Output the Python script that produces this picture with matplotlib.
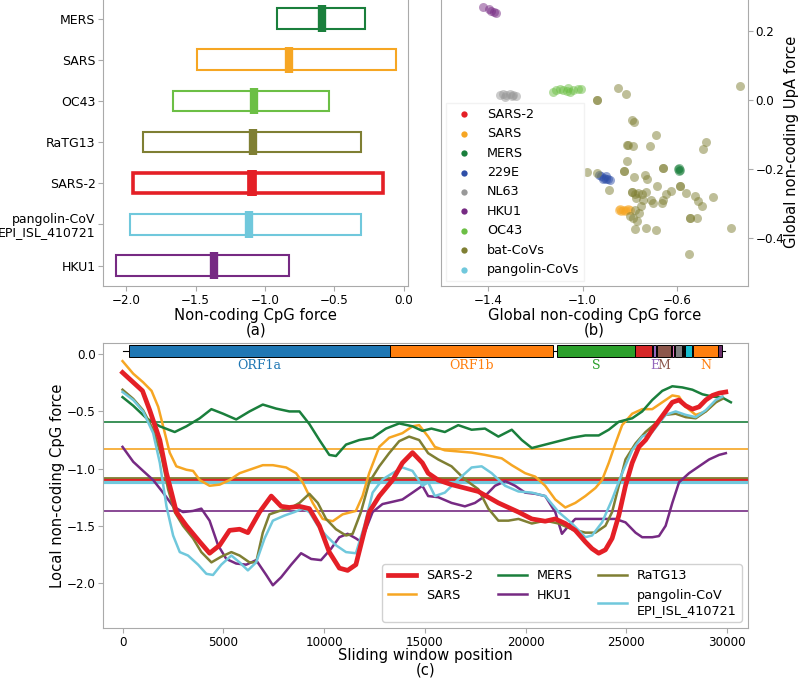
import matplotlib
matplotlib.use('Agg')
import matplotlib.pyplot as plt

plt.rcParams['font.family'] = ['DejaVu Sans']
plt.rcParams['font.size'] = 9

# ---------- colours ----------
c_sars2 = '#e41f26'
c_sars = '#f6a623'
c_mers = '#1a7f3c'
c_hku1 = '#762a83'
c_ratg = '#7f7f33'
c_pang = '#70c8dc'
c_oc43 = '#6cbf45'
c_229e = '#2f4fa8'
c_nl63 = '#999999'

# ---------- panel (a) ----------
names_a = ['MERS', 'SARS', 'OC43', 'RaTG13', 'SARS-2', 'pangolin-CoV\nEPI_ISL_410721', 'HKU1']
lo_a = [-0.91, -1.49, -1.66, -1.875, -1.95, -1.975, -2.07]
hi_a = [-0.28, -0.06, -0.54, -0.31, -0.15, -0.31, -0.825]
med_a = [-0.59, -0.83, -1.08, -1.085, -1.095, -1.115, -1.37]
col_a = [c_mers, c_sars, c_oc43, c_ratg, c_sars2, c_pang, c_hku1]

# ---------- panel (b) ----------
b_x = {
    'SARS-2': [-1.142, -1.128, -1.114, -1.099, -1.085, -1.078, -1.12, -1.095],
    'SARS': [-0.840, -0.829, -0.817, -0.806, -0.798, -0.821, -0.836, -0.848],
    'MERS': [-0.592, -0.589, -0.595, -0.590],
    '229E': [-0.930, -0.920, -0.910, -0.902, -0.892, -0.882, -0.913, -0.899],
    'NL63': [-1.351, -1.337, -1.322, -1.308, -1.294, -1.280, -1.330, -1.300],
    'HKU1': [-1.421, -1.396, -1.386, -1.375, -1.368],
    'OC43': [-1.125, -1.111, -1.097, -1.083, -1.068, -1.054, -1.040, -1.019, -1.005, -1.061],
    'bat-CoVs': [-0.939, -0.939, -0.850, -0.817, -0.332, -1.026, -0.790, -0.782, -0.688, -0.810,
                 -0.806, -0.786, -0.713, -0.476, -0.490, -0.981, -0.941, -0.889, -0.826, -0.826,
                 -0.812, -0.783, -0.737, -0.727, -0.659, -0.659, -0.683, -0.589, -0.589, -0.563,
                 -0.525, -0.511, -0.493, -0.450, -0.624, -0.645, -0.659, -0.666, -0.793, -0.793,
                 -0.779, -0.765, -0.747, -0.730, -0.709, -0.744, -0.772, -0.751, -0.779, -0.761,
                 -0.786, -0.800, -0.769, -0.779, -0.730, -0.688, -0.546, -0.546, -0.514, -0.549,
                 -0.373, -0.704],
    'pangolin-CoVs': [-1.122, -1.047, -1.047],
}
b_y = {
    'SARS-2': [-0.151, -0.149, -0.151, -0.149, -0.151, -0.149, -0.155, -0.146],
    'SARS': [-0.315, -0.319, -0.317, -0.315, -0.319, -0.322, -0.322, -0.317],
    'MERS': [-0.195, -0.202, -0.200, -0.205],
    '229E': [-0.217, -0.220, -0.224, -0.227, -0.229, -0.232, -0.229, -0.220],
    'NL63': [0.015, 0.017, 0.015, 0.018, 0.015, 0.013, 0.011, 0.012],
    'HKU1': [0.270, 0.266, 0.260, 0.257, 0.254],
    'OC43': [0.024, 0.029, 0.032, 0.029, 0.026, 0.024, 0.029, 0.032, 0.032, 0.036],
    'bat-CoVs': [0.0, 0.0, 0.036, 0.019, 0.042, -0.098, -0.057, -0.063, -0.102, -0.129,
                 -0.131, -0.132, -0.132, -0.120, -0.141, -0.208, -0.210, -0.260, -0.205, -0.205,
                 -0.176, -0.222, -0.218, -0.227, -0.195, -0.195, -0.249, -0.249, -0.249, -0.270,
                 -0.278, -0.293, -0.307, -0.281, -0.263, -0.273, -0.288, -0.298, -0.266, -0.266,
                 -0.273, -0.268, -0.273, -0.266, -0.288, -0.288, -0.283, -0.307, -0.317, -0.327,
                 -0.341, -0.335, -0.351, -0.374, -0.371, -0.376, -0.341, -0.341, -0.341, -0.446,
                 -0.371, -0.298],
    'pangolin-CoVs': [-0.169, -0.195, -0.195],
}
b_col = {'SARS-2': c_sars2, 'SARS': c_sars, 'MERS': c_mers, '229E': c_229e, 'NL63': c_nl63,
         'HKU1': c_hku1, 'OC43': c_oc43, 'bat-CoVs': c_ratg, 'pangolin-CoVs': c_pang}

# ---------- panel (c) ----------
pos_sars2 = [0, 990, 1350, 1850, 2180, 2430, 2670, 3170, 3830, 4320, 4820, 5310, 5810, 6220, 6800,
             7380, 7870, 8280, 8780, 9270, 9770, 10260, 10760, 11170, 11580, 11910, 12240, 12740,
             13400, 13890, 14390, 14880, 15166, 15664, 16328, 16992, 17656, 18154, 18652, 19150,
             19648, 20312, 20976, 21474, 21972, 22470, 22968, 23300, 23632, 23964, 24296, 24628,
             24960, 25292, 25624, 25956, 26288, 26620, 26952, 27284, 27616, 27948, 28280, 28612,
             28944, 29276, 29608, 29940]
val_sars2 = [-0.16, -0.32, -0.49, -0.75, -1.04, -1.21, -1.38, -1.50, -1.64, -1.74, -1.67, -1.54,
             -1.53, -1.56, -1.38, -1.24, -1.33, -1.34, -1.33, -1.35, -1.50, -1.73, -1.87, -1.89,
             -1.84, -1.61, -1.38, -1.24, -1.10, -0.95, -0.86, -0.95, -1.04, -1.10, -1.14, -1.17,
             -1.20, -1.25, -1.30, -1.34, -1.38, -1.44, -1.46, -1.44, -1.48, -1.54, -1.64, -1.70,
             -1.74, -1.71, -1.61, -1.41, -1.15, -0.95, -0.81, -0.75, -0.66, -0.58, -0.50, -0.42,
             -0.40, -0.45, -0.48, -0.46, -0.40, -0.36, -0.34, -0.33]

pos_sars = [0, 530, 1020, 1440, 1770, 2100, 2340, 2670, 3170, 3500, 3830, 4320, 4820, 5310, 5810,
            6300, 6960, 7460, 8120, 8610, 8940, 9440, 9930, 10430, 10920, 11580, 11910, 12240,
            12740, 13230, 13890, 14390, 14720, 15166, 15500, 15996, 16660, 17324, 17988, 18818,
            19316, 19980, 20478, 20976, 21474, 21972, 22470, 22968, 23466, 23798, 24130, 24462,
            24794, 25292, 25790, 26288, 26786, 27284, 27616, 27948, 28446, 28944, 29442, 29774]
val_sars = [-0.06, -0.17, -0.245, -0.32, -0.46, -0.69, -0.86, -0.98, -1.01, -1.02, -1.10, -1.15,
            -1.14, -1.10, -1.04, -1.01, -0.97, -0.97, -0.99, -1.04, -1.12, -1.30, -1.44, -1.46,
            -1.40, -1.37, -1.24, -1.04, -0.81, -0.73, -0.69, -0.63, -0.62, -0.72, -0.81, -0.84,
            -0.85, -0.86, -0.88, -0.91, -0.97, -1.04, -1.07, -1.15, -1.27, -1.34, -1.30, -1.24,
            -1.17, -1.10, -0.95, -0.78, -0.62, -0.52, -0.48, -0.48, -0.42, -0.36, -0.37, -0.46,
            -0.53, -0.50, -0.42, -0.37]

pos_mers = [0, 530, 1190, 1850, 2590, 3170, 3830, 4410, 4990, 5640, 6300, 6960, 7620, 8280, 8780,
            9270, 9770, 10260, 10590, 11090, 11750, 12410, 13070, 13730, 14390, 14880, 15330,
            15996, 16660, 17324, 17988, 18652, 19316, 19814, 20312, 20976, 21640, 22304, 22968,
            23632, 24130, 24628, 25292, 25790, 26288, 26786, 27284, 27782, 28280, 28778, 29276,
            29774, 30190]
val_mers = [-0.375, -0.45, -0.56, -0.63, -0.68, -0.63, -0.56, -0.48, -0.52, -0.57, -0.50, -0.44,
            -0.475, -0.50, -0.50, -0.61, -0.75, -0.88, -0.89, -0.79, -0.75, -0.73, -0.65, -0.605,
            -0.63, -0.67, -0.65, -0.68, -0.62, -0.66, -0.65, -0.72, -0.66, -0.75, -0.82, -0.79,
            -0.76, -0.73, -0.71, -0.71, -0.66, -0.59, -0.56, -0.50, -0.40, -0.32, -0.28, -0.29,
            -0.31, -0.35, -0.37, -0.38, -0.42]

pos_hku1 = [0, 530, 1020, 1520, 2010, 2510, 3000, 3500, 3910, 4320, 4740, 5150, 5640, 6140, 6630,
            7130, 7460, 7870, 8370, 8860, 9360, 9850, 10350, 10760, 11170, 11580, 11830, 12410,
            12900, 13400, 13890, 14390, 14880, 15166, 15664, 16328, 16992, 17490, 17988, 18486,
            19000, 19482, 19980, 20478, 20976, 21474, 21806, 22138, 22470, 23134, 23798, 24462,
            24960, 25458, 25790, 26288, 26620, 26952, 27284, 27616, 28114, 28612, 29110, 29608,
            29940]
val_hku1 = [-0.81, -0.94, -1.02, -1.10, -1.21, -1.33, -1.38, -1.37, -1.35, -1.455, -1.67, -1.79,
            -1.83, -1.84, -1.80, -1.93, -2.02, -1.95, -1.84, -1.74, -1.79, -1.80, -1.70, -1.60,
            -1.57, -1.61, -1.64, -1.38, -1.31, -1.29, -1.27, -1.21, -1.15, -1.24, -1.25, -1.30,
            -1.33, -1.30, -1.24, -1.15, -1.11, -1.15, -1.21, -1.22, -1.24, -1.38, -1.57, -1.50,
            -1.44, -1.44, -1.44, -1.44, -1.47, -1.56, -1.60, -1.60, -1.59, -1.50, -1.30, -1.12,
            -1.04, -0.98, -0.92, -0.88, -0.865]

pos_ratg = [0, 530, 1020, 1520, 1930, 2260, 2590, 3000, 3500, 3910, 4410, 4900, 5400, 5810, 6300,
            6630, 6960, 7290, 7790, 8280, 8780, 9270, 9690, 10100, 10590, 11090, 11420, 11830,
            12240, 12740, 13230, 13730, 14220, 14720, 15166, 15664, 16328, 16992, 17656, 18154,
            18652, 19150, 19648, 20312, 20976, 21640, 22304, 22968, 23466, 23964, 24296, 24628,
            24960, 25458, 25956, 26454, 26952, 27450, 27948, 28446, 28944, 29442, 29774]
val_ratg = [-0.31, -0.39, -0.49, -0.66, -0.89, -1.18, -1.38, -1.50, -1.61, -1.73, -1.82, -1.77,
            -1.73, -1.76, -1.82, -1.82, -1.56, -1.40, -1.37, -1.35, -1.30, -1.22, -1.30, -1.44,
            -1.53, -1.585, -1.57, -1.38, -1.12, -0.98, -0.865, -0.76, -0.72, -0.75, -0.865, -0.92,
            -0.98, -1.095, -1.18, -1.35, -1.455, -1.455, -1.44, -1.48, -1.455, -1.48, -1.53,
            -1.56, -1.56, -1.50, -1.38, -1.15, -0.92, -0.78, -0.68, -0.605, -0.53, -0.52, -0.55,
            -0.56, -0.50, -0.42, -0.39]

pos_pang = [0, 530, 1020, 1520, 1850, 2180, 2510, 2840, 3250, 3750, 4160, 4490, 4900, 5400, 5810,
            6220, 6630, 7050, 7460, 8040, 8530, 8940, 9270, 9690, 10100, 10590, 11090, 11580,
            12000, 12410, 12900, 13400, 13890, 14390, 14880, 15166, 15500, 15996, 16660, 17324,
            17822, 18320, 18984, 19648, 20312, 20976, 21640, 22304, 22968, 23300, 23798, 24296,
            24794, 25292, 25790, 26288, 26952, 27450, 27948, 28446, 28944, 29442, 29774]
val_pang = [-0.33, -0.40, -0.50, -0.69, -0.95, -1.33, -1.585, -1.73, -1.76, -1.84, -1.92, -1.93,
            -1.84, -1.76, -1.82, -1.89, -1.82, -1.61, -1.455, -1.41, -1.38, -1.35, -1.38, -1.50,
            -1.585, -1.67, -1.73, -1.74, -1.50, -1.21, -1.095, -1.04, -0.99, -1.02, -1.15, -1.12,
            -1.24, -1.21, -1.095, -0.99, -0.98, -1.04, -1.15, -1.20, -1.21, -1.24, -1.38, -1.48,
            -1.60, -1.585, -1.47, -1.27, -1.04, -0.84, -0.72, -0.68, -0.53, -0.50, -0.53, -0.55,
            -0.49, -0.40, -0.37]

# genome annotation (SARS-2)
gene_names = ['ORF1a', 'ORF1b', 'S', 'ORF3a', 'E', 'M', 'ORF6', 'ORF7a', 'ORF7b', 'ORF8', 'N', 'ORF10']
gene_start = [310, 13250, 21585, 25440, 26340, 26540, 27250, 27420, 27800, 27910, 28325, 29565]
gene_end = [13250, 21350, 25440, 26260, 26475, 27220, 27370, 27750, 27860, 28245, 29565, 29730]
gene_col = ['#1f77b4', '#ff7f0e', '#2ca02c', '#d62728', '#9467bd', '#8c564b', '#e377c2',
            '#7f7f7f', '#bcbd22', '#17becf', '#ff7f0e', '#6b2f6b']
gene_shown = ['ORF1a', 'ORF1b', 'S', 'E', 'M', 'N']
genome_len = 29903

spine_c = '#aaaaaa'


def style(ax):
    for s in ax.spines.values():
        s.set_color(spine_c)
    ax.tick_params(color=spine_c, labelsize=8.6, length=3.5, pad=2)


fig = plt.figure(figsize=(8, 6.78), dpi=100)
ax_a = fig.add_axes([0.129, 0.578, 0.381, 0.425])
ax_b = fig.add_axes([0.551, 0.578, 0.384, 0.425])
ax_c = fig.add_axes([0.129, 0.0737, 0.806, 0.420])

# (a)
for i in range(len(names_a)):
    lw = 2.6 if names_a[i] == 'SARS-2' else 1.5
    mw = 7 if names_a[i] == 'SARS-2' else 6
    ax_a.barh(i, hi_a[i] - lo_a[i], left=lo_a[i], height=0.5, fill=False,
              edgecolor=col_a[i], linewidth=lw)
    ax_a.vlines(med_a[i], i - 0.32, i + 0.32, color=col_a[i], linewidth=mw)
ax_a.set_yticks(range(len(names_a)))
ax_a.set_yticklabels(names_a, linespacing=1.0)
ax_a.set_ylim(6.5, -0.5)
ax_a.set_xlim(-2.165, 0.03)
ax_a.set_xticks([-2.0, -1.5, -1.0, -0.5, 0.0])
ax_a.set_xlabel('Non-coding CpG force\n(a)', fontsize=10.6, linespacing=1.0)
ax_a.xaxis.set_label_coords(0.5, -0.075)
style(ax_a)
ax_a.tick_params(axis='y', labelsize=9)

# (b)
for k in b_x:
    ax_b.scatter(b_x[k], b_y[k], s=42, color=b_col[k], alpha=0.5, linewidths=0, label=k)
ax_b.set_xlim(-1.60, -0.30)
ax_b.set_ylim(-0.539, 0.297)
ax_b.set_xticks([-1.4, -1.0, -0.6])
ax_b.set_yticks([0.2, 0.0, -0.2, -0.4])
ax_b.yaxis.tick_right()
ax_b.yaxis.set_label_position('right')
ax_b.set_xlabel('Global non-coding CpG force\n(b)', fontsize=10.6, linespacing=1.0)
ax_b.xaxis.set_label_coords(0.5, -0.075)
ax_b.set_ylabel('Global non-coding UpA force', fontsize=10.6)
ax_b.yaxis.set_label_coords(1.117, 0.5)
style(ax_b)
leg_b = ax_b.legend(loc='lower left', fontsize=9.2, markerscale=0.7, borderaxespad=0.4,
                    framealpha=1, edgecolor='#f2f2f2', fancybox=False)
for h in leg_b.legend_handles:
    h.set_alpha(1)

# (c)
hl = [(med_a[0], c_mers, 1.2), (med_a[1], c_sars, 1.2), (med_a[5], c_pang, 3.0),
      (med_a[4], c_sars2, 2.0), (med_a[3], c_ratg, 1.3), (med_a[6], c_hku1, 1.2)]
for v, c, w in hl:
    ax_c.axhline(v, color=c, linewidth=w, zorder=1)
ax_c.plot(pos_sars, val_sars, color=c_sars, lw=1.8, label='SARS', zorder=3)
ax_c.plot(pos_mers, val_mers, color=c_mers, lw=1.8, label='MERS', zorder=3)
ax_c.plot(pos_hku1, val_hku1, color=c_hku1, lw=1.8, label='HKU1', zorder=3)
ax_c.plot(pos_ratg, val_ratg, color=c_ratg, lw=1.8, label='RaTG13', zorder=3)
ax_c.plot(pos_pang, val_pang, color=c_pang, lw=1.8, label='pangolin-CoV\nEPI_ISL_410721', zorder=3)
ax_c.plot(pos_sars2, val_sars2, color=c_sars2, lw=3.4, label='SARS-2', zorder=4)

# genome map
ax_c.plot([0, genome_len], [0.03, 0.03], color='k', lw=0.8, zorder=5)
widths = [e - s for s, e in zip(gene_start, gene_end)]
ax_c.barh([0.03] * len(gene_start), widths, left=gene_start, height=0.1, color=gene_col,
          edgecolor='k', linewidth=0.7, zorder=6)
for n, s, e, c in zip(gene_names, gene_start, gene_end, gene_col):
    if n in gene_shown:
        ax_c.text((s + e) / 2, -0.1, n, ha='center', va='center', color=c,
                  fontsize=9, family='DejaVu Serif')

ax_c.set_xlim(-960, 31040)
ax_c.set_ylim(-2.394, 0.096)
ax_c.set_xticks([0, 5000, 10000, 15000, 20000, 25000, 30000])
ax_c.set_yticks([0.0, -0.5, -1.0, -1.5, -2.0])
ax_c.set_xlabel('Sliding window position\n(c)', fontsize=10.6, linespacing=1.0)
ax_c.xaxis.set_label_coords(0.5, -0.07)
ax_c.set_ylabel('Local non-coding CpG force', fontsize=10.6)
ax_c.yaxis.set_label_coords(-0.06, 0.5)
style(ax_c)
h, l = ax_c.get_legend_handles_labels()
order = ['SARS-2', 'SARS', 'MERS', 'HKU1', 'RaTG13', 'pangolin-CoV\nEPI_ISL_410721']
hh = [h[l.index(o)] for o in order]
ax_c.legend(hh, order, loc='lower right', ncol=3, fontsize=9.2, handlelength=2.2,
            edgecolor='#cccccc', framealpha=0.9)

fig.savefig('out.png', dpi=100)
